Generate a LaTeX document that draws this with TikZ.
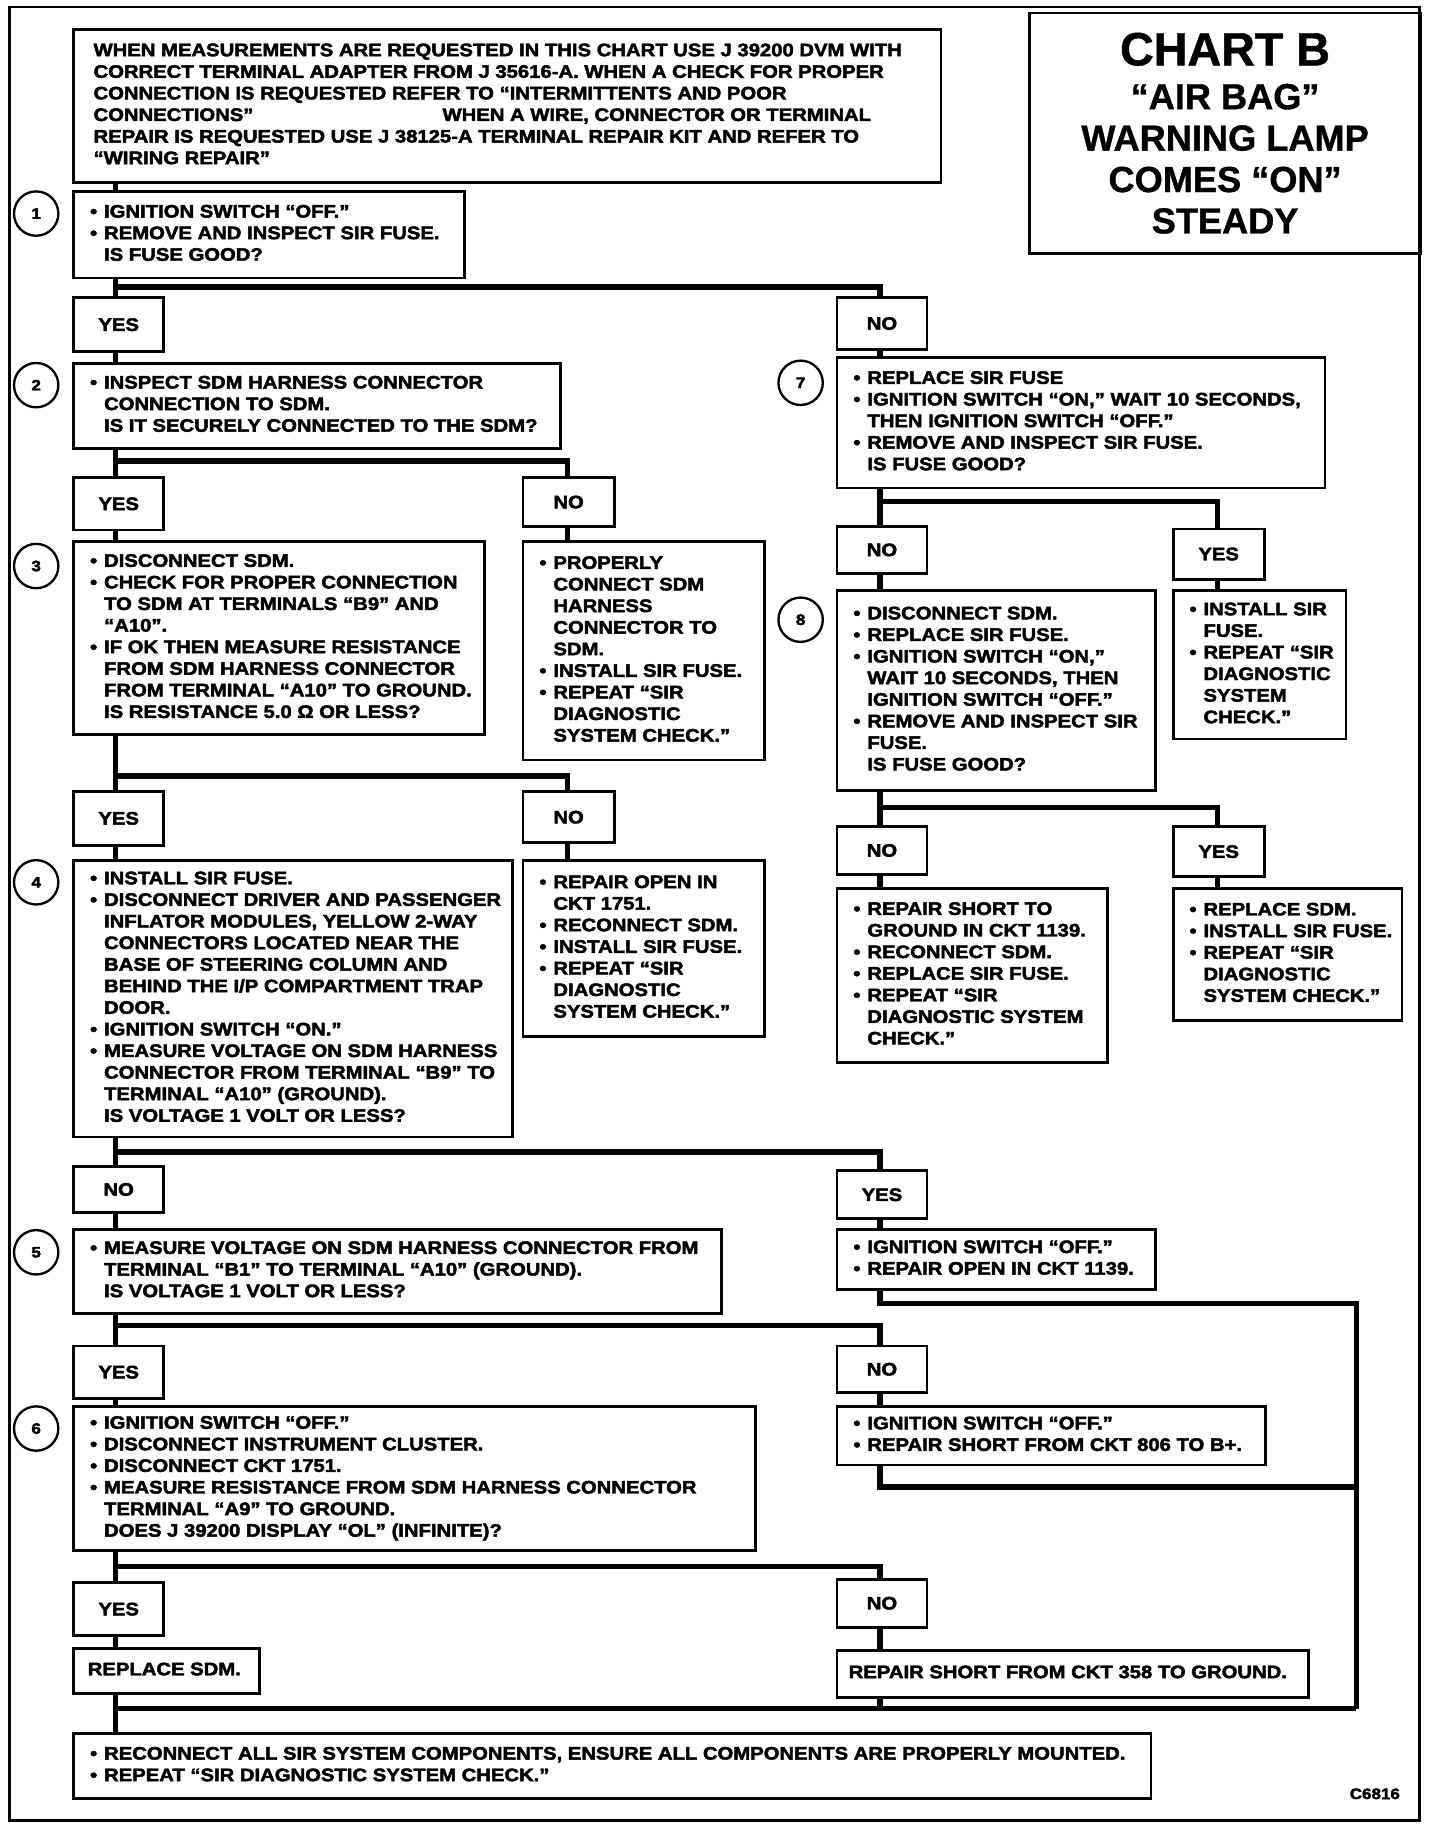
\documentclass[tikz,border=0pt]{standalone}
\usepackage{fontspec}
\newfontfamily\bodyfont[FakeStretch=1.12,BoldFeatures={FakeBold=2.5}]{Liberation Sans}
\newfontfamily\titlefont[BoldFeatures={FakeBold=1}]{Liberation Sans}
\newcommand\bu{\makebox[12pt][l]{•}}
\newcommand\ind{\hspace*{12pt}}
\tikzset{
  box/.style={draw, line width=2.4pt, fill=white, anchor=north west, inner xsep=14pt, inner ysep=0pt,
    font=\bodyfont\bfseries\fontsize{15.5}{18.5}\selectfont},
  ynbox/.style={draw, line width=2.4pt, fill=white, anchor=north west, inner sep=0pt, align=center,
    font=\bodyfont\bfseries\fontsize{15.5}{18.5}\selectfont},
  conn/.style={line width=4.5pt, line join=miter},
  circ/.style={draw, circle, line width=2pt, minimum size=38pt, inner sep=0pt,
    font=\bodyfont\bfseries\fontsize{13}{15}\selectfont},
}
\newcommand\lines[2]{\makebox[#1][l]{\raisebox{-2pt}{\begin{tabular}{@{}l@{}}#2\end{tabular}}}}
\newcommand\mybox[6]{\node[box,minimum width=#4pt,minimum height=#5pt] (#1) at (#2,#3) {\lines{\dimexpr#4pt-28pt\relax}{#6}};}
\newcommand\yn[6]{\node[ynbox,minimum width=#4pt,minimum height=#5pt] (#1) at (#2,#3) {#6};}
\begin{document}
\begin{tikzpicture}[x=1pt,y=-1pt]
\useasboundingbox (0,0) rectangle (1234,1568);
\draw[line width=2.4pt] (8,6) rectangle (1216,1560);
% title
\node[draw, line width=2.4pt, anchor=north west, minimum width=335pt, minimum height=206pt, align=center, inner sep=0pt,
  font=\titlefont\bfseries\fontsize{31}{35.5}\selectfont] (title) at (881,10)
  {{\fontsize{40}{40}\selectfont CHART B}\\[2pt] “AIR BAG”\\ WARNING LAMP\\ COMES “ON”\\ STEADY};
% intro
\node[box, inner xsep=17pt, minimum width=743pt, minimum height=131pt] (intro) at (62,24)
 {\lines{709pt}{WHEN MEASUREMENTS ARE REQUESTED IN THIS CHART USE J 39200 DVM WITH\\
  CORRECT TERMINAL ADAPTER FROM J 35616-A. WHEN A CHECK FOR PROPER\\
  CONNECTION IS REQUESTED REFER TO “INTERMITTENTS AND POOR\\
  \makebox[299pt][l]{CONNECTIONS”}WHEN A WIRE, CONNECTOR OR TERMINAL\\
  REPAIR IS REQUESTED USE J 38125-A TERMINAL REPAIR KIT AND REFER TO\\
  “WIRING REPAIR”}};
% step boxes
\mybox{b1}{62}{163}{335}{74}{\bu IGNITION SWITCH “OFF.”\\ \bu REMOVE AND INSPECT SIR FUSE.\\ \ind IS FUSE GOOD?}
\mybox{b2}{62}{310}{417}{73}{\bu INSPECT SDM HARNESS CONNECTOR\\ \ind CONNECTION TO SDM.\\ \ind IS IT SECURELY CONNECTED TO THE SDM?}
\mybox{b7}{716}{305}{418}{112}{\bu REPLACE SIR FUSE\\ \bu IGNITION SWITCH “ON,” WAIT 10 SECONDS,\\ \ind THEN IGNITION SWITCH “OFF.”\\ \bu REMOVE AND INSPECT SIR FUSE.\\ \ind IS FUSE GOOD?}
\mybox{b3}{62}{463}{352}{165}{\bu DISCONNECT SDM.\\ \bu CHECK FOR PROPER CONNECTION\\ \ind TO SDM AT TERMINALS “B9” AND\\ \ind “A10”.\\ \bu IF OK THEN MEASURE RESISTANCE\\ \ind FROM SDM HARNESS CONNECTOR\\ \ind FROM TERMINAL “A10” TO GROUND.\\ \ind IS RESISTANCE 5.0 Ω OR LESS?}
\mybox{bp}{447}{463}{207}{187}{\bu PROPERLY\\ \ind CONNECT SDM\\ \ind HARNESS\\ \ind CONNECTOR TO\\ \ind SDM.\\ \bu INSTALL SIR FUSE.\\ \bu REPEAT “SIR\\ \ind DIAGNOSTIC\\ \ind SYSTEM CHECK.”}
\mybox{b8}{716}{505}{273}{171}{\bu DISCONNECT SDM.\\ \bu REPLACE SIR FUSE.\\ \bu IGNITION SWITCH “ON,”\\ \ind WAIT 10 SECONDS, THEN\\ \ind IGNITION SWITCH “OFF.”\\ \bu REMOVE AND INSPECT SIR\\ \ind FUSE.\\ \ind IS FUSE GOOD?}
\mybox{bi}{1004}{505}{148}{127}{\bu INSTALL SIR\\ \ind FUSE.\\ \bu REPEAT “SIR\\ \ind DIAGNOSTIC\\ \ind SYSTEM\\ \ind CHECK.”}
\mybox{b4}{62}{736}{376}{237}{\bu INSTALL SIR FUSE.\\ \bu DISCONNECT DRIVER AND PASSENGER\\ \ind INFLATOR MODULES, YELLOW 2-WAY\\ \ind CONNECTORS LOCATED NEAR THE\\ \ind BASE OF STEERING COLUMN AND\\ \ind BEHIND THE I/P COMPARTMENT TRAP\\ \ind DOOR.\\ \bu IGNITION SWITCH “ON.”\\ \bu MEASURE VOLTAGE ON SDM HARNESS\\ \ind CONNECTOR FROM TERMINAL “B9” TO\\ \ind TERMINAL “A10” (GROUND).\\ \ind IS VOLTAGE 1 VOLT OR LESS?}
\mybox{br}{447}{736}{207}{151}{\bu REPAIR OPEN IN\\ \ind CKT 1751.\\ \bu RECONNECT SDM.\\ \bu INSTALL SIR FUSE.\\ \bu REPEAT “SIR\\ \ind DIAGNOSTIC\\ \ind SYSTEM CHECK.”}
\mybox{bs}{716}{760}{232}{149}{\bu REPAIR SHORT TO\\ \ind GROUND IN CKT 1139.\\ \bu RECONNECT SDM.\\ \bu REPLACE SIR FUSE.\\ \bu REPEAT “SIR\\ \ind DIAGNOSTIC SYSTEM\\ \ind CHECK.”}
\mybox{brs}{1004}{760}{196}{113}{\bu REPLACE SDM.\\ \bu INSTALL SIR FUSE.\\ \bu REPEAT “SIR\\ \ind DIAGNOSTIC\\ \ind SYSTEM CHECK.”}
\mybox{b5}{62}{1052}{555}{72}{\bu MEASURE VOLTAGE ON SDM HARNESS CONNECTOR FROM\\ \ind TERMINAL “B1” TO TERMINAL “A10” (GROUND).\\ \ind IS VOLTAGE 1 VOLT OR LESS?}
\mybox{bo}{716}{1052}{273}{52}{\bu IGNITION SWITCH “OFF.”\\ \bu REPAIR OPEN IN CKT 1139.}
\mybox{b6}{62}{1204}{584}{123}{\bu IGNITION SWITCH “OFF.”\\ \bu DISCONNECT INSTRUMENT CLUSTER.\\ \bu DISCONNECT CKT 1751.\\ \bu MEASURE RESISTANCE FROM SDM HARNESS CONNECTOR\\ \ind TERMINAL “A9” TO GROUND.\\ \ind DOES J 39200 DISPLAY “OL” (INFINITE)?}
\mybox{bb}{716}{1204}{367}{50}{\bu IGNITION SWITCH “OFF.”\\ \bu REPAIR SHORT FROM CKT 806 TO B+.}
\node[box, inner xsep=12pt, minimum width=159pt, minimum height=39pt] (brep) at (62,1411) {\lines{135pt}{REPLACE SDM.}};
\node[box, inner xsep=10pt, minimum width=404pt, minimum height=40pt] (bg) at (716,1413) {\lines{384pt}{REPAIR SHORT FROM CKT 358 TO GROUND.}};
\mybox{bf}{62}{1484}{923}{56}{\bu RECONNECT ALL SIR SYSTEM COMPONENTS, ENSURE ALL COMPONENTS ARE PROPERLY MOUNTED.\\ \bu REPEAT “SIR DIAGNOSTIC SYSTEM CHECK.”}
% yes/no boxes
\yn{y1}{62}{254}{77}{46}{YES}
\yn{n1}{716}{254}{77}{44}{NO}
\yn{y2}{62}{408}{77}{45}{YES}
\yn{n2}{447}{408}{78}{42}{NO}
\yn{n7}{716}{450}{77}{40}{NO}
\yn{y7}{1004}{452}{78}{43}{YES}
\yn{y3}{62}{677}{77}{46}{YES}
\yn{n3}{447}{677}{78}{44}{NO}
\yn{n8}{716}{707}{77}{41}{NO}
\yn{y8}{1004}{707}{78}{43}{YES}
\yn{n4}{62}{998}{77}{40}{NO}
\yn{y4}{716}{1002}{77}{41}{YES}
\yn{y5}{62}{1152}{77}{45}{YES}
\yn{n5}{716}{1152}{77}{40}{NO}
\yn{y6}{62}{1355}{77}{45}{YES}
\yn{n6}{716}{1352}{77}{41}{NO}
% step numbers
\node[circ] (c1) at (31,183) {1};
\node[circ] (c2) at (31,330) {2};
\node[circ] (c7) at (686,328) {7};
\node[circ] (c3) at (31,485) {3};
\node[circ] (c8) at (686,531) {8};
\node[circ] (c4) at (31,756) {4};
\node[circ] (c5) at (31,1073) {5};
\node[circ] (c6) at (31,1224) {6};
\node[font=\bodyfont\bfseries\fontsize{13}{15}\selectfont] (code) at (1178,1537) {C6816};
% spine coordinates
\coordinate (L) at (99,0);
\coordinate (M) at (486,0);
\coordinate (R) at (754,0);
\coordinate (RR) at (1043,0);
\coordinate (C) at (1162,0);
\coordinate (j1) at (99,246);
\coordinate (j2) at (99,395);
\coordinate (j7) at (754,430);
\coordinate (j3) at (99,665);
\coordinate (j8) at (754,692);
\coordinate (j4) at (99,987);
\coordinate (j5) at (99,1136);
\coordinate (j6) at (99,1342);
\coordinate (jo) at (754,1117);
\coordinate (jb) at (754,1274);
\coordinate (jc) at (1162,1464);
\coordinate (jf) at (99,1464);
% connectors
\begin{scope}[conn]
\draw (intro.south -| L) -- (b1.north -| L);
\draw (b1.south -| L) -- (y1.north -| L);
\draw (j1) -| (n1.north -| R);
\draw (y1.south -| L) -- (b2.north -| L);
\draw (n1.south -| R) -- (b7.north -| R);
\draw (b2.south -| L) -- (y2.north -| L);
\draw (j2) -| (n2.north -| M);
\draw (y2.south -| L) -- (b3.north -| L);
\draw (n2.south -| M) -- (bp.north -| M);
\draw (b7.south -| R) -- (n7.north -| R);
\draw (j7) -| (y7.north -| RR);
\draw (n7.south -| R) -- (b8.north -| R);
\draw (y7.south -| RR) -- (bi.north -| RR);
\draw (b3.south -| L) -- (y3.north -| L);
\draw (j3) -| (n3.north -| M);
\draw (y3.south -| L) -- (b4.north -| L);
\draw (n3.south -| M) -- (br.north -| M);
\draw (b8.south -| R) -- (n8.north -| R);
\draw (j8) -| (y8.north -| RR);
\draw (n8.south -| R) -- (bs.north -| R);
\draw (y8.south -| RR) -- (brs.north -| RR);
\draw (b4.south -| L) -- (n4.north -| L);
\draw (j4) -| (y4.north -| R);
\draw (n4.south -| L) -- (b5.north -| L);
\draw (y4.south -| R) -- (bo.north -| R);
\draw (b5.south -| L) -- (y5.north -| L);
\draw (j5) -| (n5.north -| R);
\draw (y5.south -| L) -- (b6.north -| L);
\draw (n5.south -| R) -- (bb.north -| R);
\draw (bo.south -| R) -- (jo) -| (jc);
\draw (bb.south -| R) -- (jb) -- (jb -| C);
\draw (b6.south -| L) -- (y6.north -| L);
\draw (j6) -| (n6.north -| R);
\draw (y6.south -| L) -- (brep.north -| L);
\draw (n6.south -| R) -- (bg.north -| R);
\draw (bg.south -| R) -- (jc -| R);
\draw (brep.south -| L) -- (bf.north -| L);
\draw (jf) -- (jc);
\end{scope}
\end{tikzpicture}
\end{document}
